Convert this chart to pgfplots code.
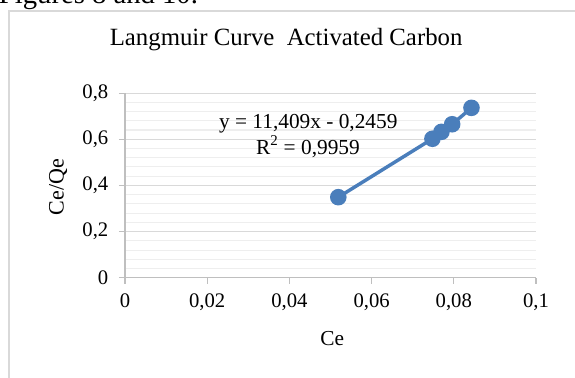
\documentclass[border=0pt]{standalone}
\usepackage{pgfplots}
\pgfplotsset{compat=1.18}
\usepackage{fontspec}
\setmainfont{Liberation Serif}
\definecolor{ser}{RGB}{74,126,187}
\definecolor{majg}{RGB}{217,217,217}
\definecolor{ming}{RGB}{238,238,238}
\definecolor{axg}{RGB}{191,191,191}
\begin{document}
\begin{tikzpicture}
\useasboundingbox (0,0) rectangle (431.25pt,283.5pt);
\clip (0,0) rectangle (431.25pt,283.5pt);
\node[anchor=base west, font=\fontsize{21.5}{25}\selectfont, inner sep=0pt] at (-1pt,280.5pt) {Figures 8 and 10.};
\draw[majg, line width=0.8pt] (6.75pt,-10pt) -- (6.75pt,275.25pt) -- (440pt,275.25pt);
\begin{axis}[
  at={(93.75pt,75.2pt)}, anchor=south west,
  scale only axis, width=308.25pt, height=138.5pt,
  xmin=0, xmax=0.1, ymin=0, ymax=0.8,
  xtick={0,0.02,0.04,0.06,0.08,0.1},
  xticklabels={0,{0,02},{0,04},{0,06},{0,08},{0,1}},
  ytick={0,0.2,0.4,0.6,0.8},
  yticklabels={0,{0,2},{0,4},{0,6},{0,8}},
  minor ytick={0.04,0.08,...,0.76},
  ymajorgrids, yminorgrids,
  major grid style={majg, line width=0.8pt},
  minor grid style={ming, line width=0.8pt},
  axis x line*=bottom, axis y line*=left,
  axis line style={axg, line width=0.8pt, -},
  tick style={axg, line width=0.8pt},
  major tick length=4.5pt, minor tick length=0pt,
  tick align=outside,
  ticklabel style={font=\fontsize{15.5}{18}\selectfont, text=black},
  xticklabel style={yshift=-4pt},
  yticklabel style={xshift=-4.5pt},
  title={Langmuir Curve\ \ Activated Carbon},
  title style={at={(axis description cs:0.392,1.249)}, anchor=center, font=\fontsize{18.6}{22}\selectfont},
  xlabel={Ce},
  xlabel style={at={(axis description cs:0.504,-0.33)}, anchor=center, font=\fontsize{16}{19}\selectfont},
  ylabel={Ce/Qe},
  ylabel style={at={(axis description cs:-0.163,0.491)}, anchor=center, rotate=0, font=\fontsize{16.5}{19}\selectfont},
  clip=false,
]
\addplot[ser, line width=2.6pt, mark=*, mark size=4.9pt, mark options={fill=ser, draw=none}] coordinates {
  (0.0519,0.349) (0.0748,0.602) (0.0770,0.632) (0.0796,0.665) (0.0843,0.736)
};
\node[font=\fontsize{16}{19}\selectfont, align=center, inner sep=0pt] at (axis cs:0.0446,0.667) {y = 11,409x - 0,2459};
\node[font=\fontsize{16}{19}\selectfont, align=center, inner sep=0pt] at (axis cs:0.0445,0.567) {R\textsuperscript{2} = 0,9959};
\end{axis}
\end{tikzpicture}
\end{document}
